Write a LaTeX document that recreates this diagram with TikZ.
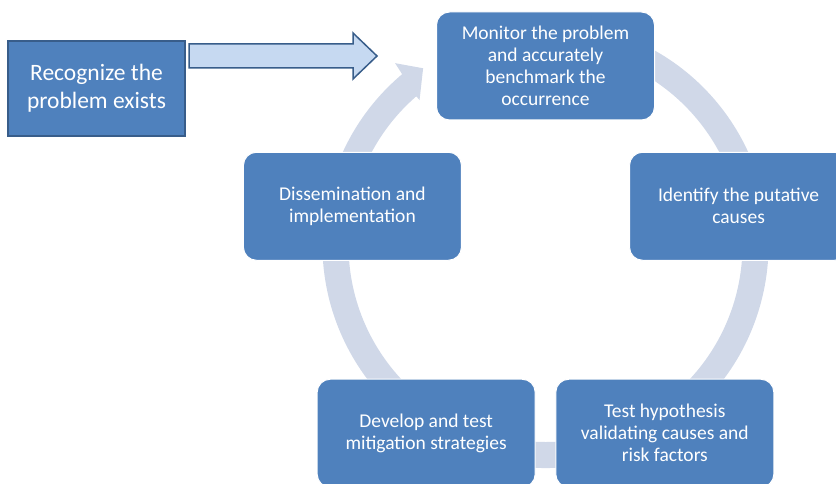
\documentclass[tikz,border=0pt]{standalone}
\usepackage{fontspec}
\setmainfont{Carlito}
\usetikzlibrary{calc}
\definecolor{boxblue}{HTML}{4F81BD}
\definecolor{boxedge}{HTML}{385D8A}
\definecolor{arrowfill}{HTML}{C6D9F1}
\definecolor{ringgray}{HTML}{D0D8E8}
\tikzset{
  cyc/.style={rectangle, rounded corners=13pt, fill=boxblue, draw=white, line width=1pt, minimum width=218pt, minimum height=108pt, inner sep=2pt, text=white, align=center, font=\fontsize{19.5}{22}\selectfont},
  startbox/.style={rectangle, fill=boxblue, draw=boxedge, line width=1.5pt, minimum width=177pt, minimum height=95pt, text=white, align=center, font=\fontsize{23.5}{28}\selectfont},
  ringband/.style={fill=ringgray},
  blockarrow/.style={fill=arrowfill, draw=boxedge, line width=1.5pt, line join=miter},
}

\begin{document}
\begin{tikzpicture}[x=1pt, y=1pt]
\clip (0,0) rectangle (836,483);
\coordinate (O) at (545.5,214);
\coordinate (C) at (545.5,238);
\fill[ringband] ([shift={(75:223)}]C) arc[start angle=75, end angle=-230, radius=223pt]
  -- ([shift={(129.6:236)}]C) -- ([shift={(124.7:215)}]C) -- ([shift={(131:192)}]C)
  -- ([shift={(-229:197)}]C) arc[start angle=-229, end angle=75, radius=197pt] -- cycle;
\node[startbox] (rec) at (96.5,394.5) {Recognize the\\problem exists};
\node[cyc] (mon) at ([shift={(90:203)}]O) {Monitor the problem\\and accurately\\benchmark the\\occurrence};
\node[cyc] (ident) at ([shift={(18:203)}]O) {Identify the putative\\causes};
\node[cyc] (test) at ([shift={(-54:203)}]O) {Test hypothesis\\validating causes and\\risk factors};
\node[cyc] (devel) at ([shift={(-126:203)}]O) {Develop and test\\mitigation strategies};
\node[cyc] (dissem) at ([shift={(162:203)}]O) {Dissemination and\\implementation};
\coordinate (atail) at (189,427);
\coordinate (ahead) at (377,427);
\draw[blockarrow] (atail) ++(0,12) -- ++(164,0) -- ++(0,11) -- (ahead) -- ++(-24,-23) -- ++(0,11) -- ++(-164,0) -- cycle;
\end{tikzpicture}
\end{document}
